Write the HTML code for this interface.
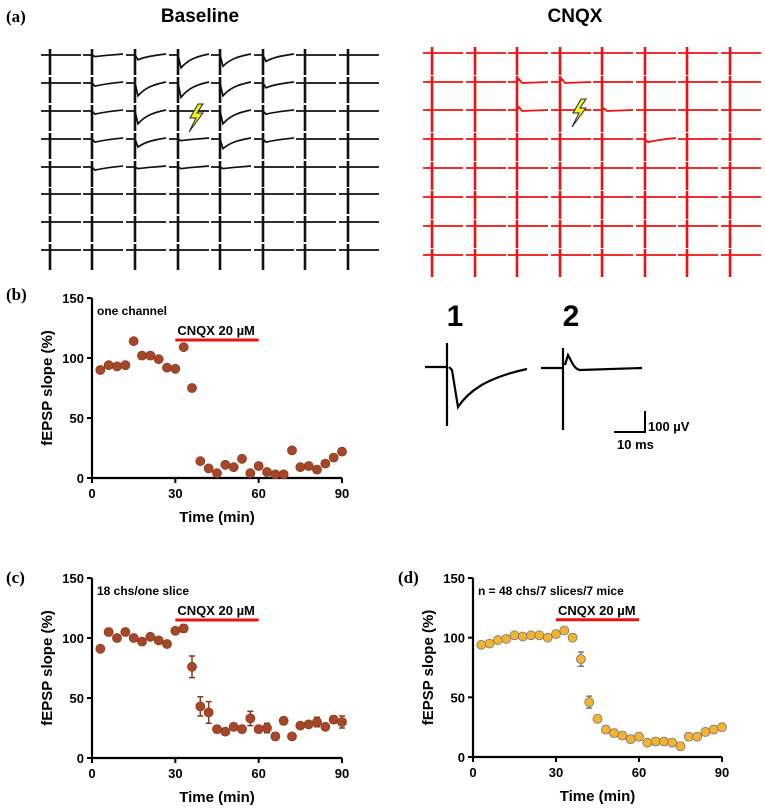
<!DOCTYPE html>
<html><head><meta charset="utf-8">
<style>
body{margin:0;background:#fff;}
svg{display:block;font-family:"Liberation Sans",Arial,sans-serif;}
.lbl{font-family:"Liberation Serif",serif;font-weight:bold;font-size:17px;}
.tick{font-size:13px;font-weight:bold;}
.ttl{font-size:15px;font-weight:bold;}
</style></head>
<body>
<svg id="fig" width="765" height="811" viewBox="0 0 765 811">
<text class="lbl" x="6" y="22">(a)</text>
<text x="200" y="22" font-size="19" font-weight="bold" text-anchor="middle">Baseline</text>
<text x="575" y="22" font-size="19" font-weight="bold" text-anchor="middle">CNQX</text>
<g id="gridA"></g>
<g id="gridB"></g>
<polygon points="198,104 190,118 196,118 189,132 203,113 197,113 203,104" fill="#f2f21a" stroke="#223" stroke-width="1"/>
<polygon points="581,99 573,113 579,113 572,127 586,108 580,108 586,99" fill="#f2f21a" stroke="#223" stroke-width="1"/>

<text class="lbl" x="6" y="300">(b)</text>
<text class="lbl" x="6" y="583">(c)</text>
<text class="lbl" x="398" y="583">(d)</text>

<g id="chartB"></g>
<g id="chartC"></g>
<g id="chartD"></g>

<g>
<text x="455" y="326" font-size="30" font-weight="bold" text-anchor="middle">1</text>
<text x="571" y="326" font-size="30" font-weight="bold" text-anchor="middle">2</text>
<path d="M425,367 L446,367 M447,343 L447,426 M449,367 L452,370 L458,407 C468,392 485,378 527,369" stroke="#000" stroke-width="2.2" fill="none"/>
<path d="M541,368 L562,368 M563,348 L563,430 M565,365 L568,355 C572,362 574,369 580,370 L642,368" stroke="#000" stroke-width="2.2" fill="none"/>
<path d="M645,411 L645,432 L614,432" stroke="#000" stroke-width="2" fill="none"/>
<text x="648" y="431" font-size="13" font-weight="bold">100 µV</text>
<text x="617" y="449" font-size="13" font-weight="bold">10 ms</text>
</g>
</svg>
<script>
const NS="http://www.w3.org/2000/svg";
const timeMin=[3,6,9,12,15,18,21,24,27,30,33,36,39,42,45,48,51,54,57,60,63,66,69,72,75,78,81,84,87,90];
const slopeB=[90,94,93,94,114,102,102,99,92,91,109,75,14,8,4,11,9,16,4,10,5,3,3,23,9,10,7,12,17,22];
const slopeC=[91,105,100,105,100,97,101,98,95,106,108,76,43,38,24,22,26,24,33,24,25,18,31,18,27,28,30,26,32,30];
const errC=[1,1,1,1,1,1,1,1,1,1,3,9,8,9,3,2,3,3,6,3,4,3,3,2,2,1,4,1,3,5];
const slopeD=[94,95,98,99,102,101,102,102,100,103,106,100,82,46,32,23,20,18,15,17,12,13,13,12,9,17,17,21,23,25];
const errD=[1,1,1,1,1,1,1,1,1,2,2,3,6,5,3,3,3,3,3,3,2,3,3,3,3,3,3,3,3,3];
const xTicks=[0,30,60,90];
const yTicks=[0,50,100,150];
const drugStart=30, drugEnd=60, drugLevel=115;
const ampA=[[0,1,3,8,7,4,0,0],[0,2,8,9,8,3,0,0],[0,2,8,0,8,2,0,0],[0,2,5,1,6,2,0,0],[0,2,1,1,1,0,0,0],[0,0,0,0,0,0,0,0],[0,0,0,0,0,0,0,0],[0,0,0,0,0,0,0,0]];
const ampB=[[0,0,0,0,0,0,0,0],[0,0,-2,-2,0,0,0,0],[0,0,-2,0,-1,0,0,0],[0,0,0,0,0,2,0,0],[0,0,0,0,0,0,0,0],[0,0,0,0,0,0,0,0],[0,0,0,0,0,0,0,0],[0,0,0,0,0,0,0,0]];

function mk(tag,attrs,parent){const e=document.createElementNS(NS,tag);for(const k in attrs)e.setAttribute(k,attrs[k]);parent.appendChild(e);return e;}

function grid(gid,amp,colX,rowY,color,sTop,sBot,lw){
  const g=document.getElementById(gid);
  amp.forEach((row,r)=>row.forEach((a,c)=>{
    const x=colX[c],y=rowY[r];
    let d=`M${x-9},${y} L${x+31},${y}`;
    if(a>0) d=`M${x-9},${y} L${x},${y} L${x+3},${y+a*1.6} C${x+10},${y+a*0.6} ${x+18},${y+a*0.2} ${x+31},${y-1}`;
    else if(a<0) d=`M${x-9},${y} L${x},${y} L${x+2},${y+a*1.5} L${x+5},${y+1} L${x+31},${y}`;
    const p=mk('path',{d:d,stroke:color,'stroke-width':lw,fill:'none'},g);
    
    
    const s=mk('line',{x1:x,x2:x,y1:y-sTop,y2:y+sBot,stroke:color,'stroke-width':2.6},g);
    
    
  }));
}
grid('gridA',ampA,[50,92,135,178,220,263,305,348],[55,83,111,139,167,194,222,250],'#111',6,20,1.7);
grid('gridB',ampB,[432,475,517,560,602,645,687,730],[53,82,110,139,168,197,226,255],'#f01010',6,22,1.8);

function chart(gid,x0,x1,y0,y1,vals,errs,fill,stroke,note){
  const g=document.getElementById(gid);
  const sx=v=>x0+(v-0)/90*(x1-x0);
  const sy=v=>y0-(v/150)*(y0-y1);
  const ax=mk('path',{d:`M${x0},${y1} L${x0},${y0} L${x1},${y0}`,stroke:'#000','stroke-width':2.2,fill:'none'},g);
  
  
  xTicks.forEach(t=>{
    mk('line',{x1:sx(t),x2:sx(t),y1:y0,y2:y0+5,stroke:'#000','stroke-width':2},g);
    const tx=mk('text',{x:sx(t),y:y0+20,'text-anchor':'middle',class:'tick'},g);tx.textContent=t;
    
    
  });
  yTicks.forEach(t=>{
    mk('line',{x1:x0-5,x2:x0,y1:sy(t),y2:sy(t),stroke:'#000','stroke-width':2},g);
    const tx=mk('text',{x:x0-8,y:sy(t)+5,'text-anchor':'end',class:'tick'},g);tx.textContent=t;
    
    
  });
  const yt=mk('text',{x:0,y:0,class:'ttl','text-anchor':'middle',transform:`translate(${x0-40},${(y0+y1)/2}) rotate(-90)`},g);
  yt.textContent='fEPSP slope (%)';
  
  
  const xt=mk('text',{x:(x0+x1)/2,y:y0+44,class:'ttl','text-anchor':'middle'},g);
  xt.textContent='Time (min)';
  
  
  const nt=mk('text',{x:x0+5,y:y1+17,'font-size':12,'font-weight':'bold'},g);nt.textContent=note;
  
  
  const bar=mk('line',{x1:sx(drugStart),x2:sx(drugEnd),y1:sy(drugLevel),y2:sy(drugLevel),stroke:'#ee1111','stroke-width':3},g);
  
  
  const bt=mk('text',{x:sx(drugStart)+2,y:sy(drugLevel)-5,'font-size':13,'font-weight':'bold'},g);bt.textContent='CNQX 20 µM';
  
  
  vals.forEach((v,i)=>{
    const cx=sx(timeMin[i]),cy=sy(v);
    if(errs){const e=errs[i]*(y0-y1)/150;
      const eb=mk('path',{d:`M${cx},${cy-e} L${cx},${cy+e} M${cx-3},${cy-e} L${cx+3},${cy-e} M${cx-3},${cy+e} L${cx+3},${cy+e}`,stroke:stroke,'stroke-width':1.5,fill:'none'},g);
      
      
    }
    const c=mk('circle',{cx:cx,cy:cy,r:4.5,fill:fill,stroke:stroke,'stroke-width':0.8},g);
    
    
  });
}
chart('chartB',92,342,478,298,slopeB,null,'#a5482a','#8a3a20','one channel');
chart('chartC',92,342,758,578,slopeC,errC,'#a5482a','#8a3a20','18 chs/one slice');
chart('chartD',473,722,757,578,slopeD,errD,'#f2b430','#777','n = 48 chs/7 slices/7 mice');
</script>
</body></html>
